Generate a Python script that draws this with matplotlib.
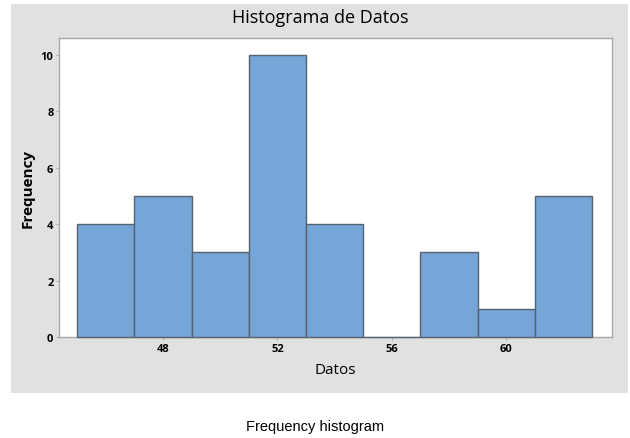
import matplotlib
matplotlib.use("Agg")
import matplotlib.pyplot as plt
from matplotlib.patches import Rectangle

# data
bin_edges = [45, 47, 49, 51, 53, 55, 57, 59, 61, 63]
counts = [4, 5, 3, 10, 4, 0, 3, 1, 5]
x_ticks = [48, 52, 56, 60]
y_ticks = [0, 2, 4, 6, 8, 10]

W, H = 630, 439
fig = plt.figure(figsize=(W / 100, H / 100), dpi=100)
fig.patch.set_facecolor("white")

# gray minitab style panel, behind the axes
fig.patches.append(Rectangle((11 / W, 1 - 394 / H), (628 - 11) / W, (394 - 5) / H,
                             transform=fig.transFigure, facecolor="#e1e1e1",
                             edgecolor="none", zorder=-10))

ax = fig.add_axes([59 / W, 1 - 338 / H, (612 - 59) / W, (338 - 39) / H])
ax.set_zorder(1)
ax.set_facecolor("white")

lefts = bin_edges[:-1]
widths = [b - a for a, b in zip(bin_edges[:-1], bin_edges[1:])]
bars = ax.bar(lefts, counts, width=widths, align="edge", color="#76a5d8",
              edgecolor="#56626e", linewidth=1.0, zorder=3)
for b in bars:
    b.set_clip_on(False)

ax.set_xlim(44.36, 63.7)
ax.set_ylim(0, 10.6)
ax.set_xticks(x_ticks)
ax.set_yticks(y_ticks)
ax.tick_params(length=2, width=0.8, color="#b0b0b0", labelsize=8, pad=2)
for lab in ax.get_xticklabels() + ax.get_yticklabels():
    lab.set_fontweight("bold")
    lab.set_family("Open Sans")

for sp in ax.spines.values():
    sp.set_color("#a8a8a8")
    sp.set_linewidth(1.0)

ax.set_xlabel("Datos", fontsize=11, family="Open Sans", labelpad=6)
ax.set_ylabel("Frequency", fontsize=11, family="Open Sans", fontweight="bold", labelpad=4)

fig.text(320 / W, 1 - 18 / H, "Histograma de Datos", ha="center", va="center",
         fontsize=13, family="Open Sans")
fig.text(315 / W, 1 - 427 / H, "Frequency histogram", ha="center", va="center",
         fontsize=10.5, family="Liberation Sans")

fig.savefig("out.png", dpi=100)
